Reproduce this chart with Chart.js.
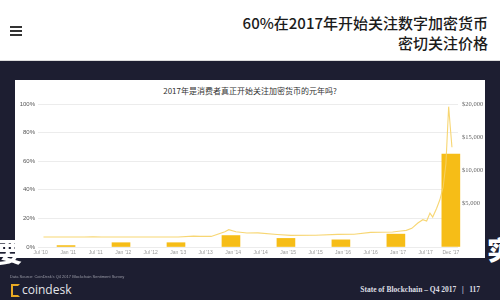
<!DOCTYPE html>
<html>
<head>
<meta charset="utf-8">
<script src="https://cdn.jsdelivr.net/npm/chart.js@4/dist/chart.umd.min.js"></script>
<style>
  html, body { margin: 0; padding: 0; }
  body { width: 500px; height: 300px; overflow: hidden; position: relative; background: #1d1e31; font-family: 'Noto Sans CJK SC', 'Noto Sans', sans-serif; }
  #hdr { position: absolute; left: 0; top: 0; width: 500px; height: 60px; background: #fff; border-bottom: 1px solid #dcdcdc; }
  .bar { position: absolute; left: 10px; width: 12px; height: 2px; background: #333; }
  #headline { position: absolute; right: 12px; top: 13px; text-align: right; font: 500 15px/20px 'Noto Sans CJK SC', sans-serif; color: #1b1b1b; white-space: nowrap; }
  #card { position: absolute; left: 15px; top: 80px; width: 470px; height: 178px; background: #fff; }
  #ctitle { position: absolute; left: 0; top: 5px; width: 100%; text-align: center; font: 8px 'Noto Sans CJK SC', sans-serif; color: #333; white-space: nowrap; }
  #c { position: absolute; left: 0; top: 0; }
  .glyph { position: absolute; font: 900 26px 'Noto Sans CJK SC', sans-serif; color: #fff; line-height: 1; }
  #src { position: absolute; left: 10px; top: 274px; font: 4px 'Liberation Sans', sans-serif; color: #9b9ca8; white-space: nowrap; }
  #logo { position: absolute; left: 11px; top: 284px; width: 5px; height: 9px; border: 2px solid #e8a923; border-right-color: transparent; }
  #brand { position: absolute; left: 22px; top: 281px; font: 12px 'Open Sans', sans-serif; color: #e4e5ea; }
  #page { position: absolute; right: 20px; top: 285px; font: bold 7.5px 'Liberation Serif', serif; color: #dedfe4; white-space: pre; }
</style>
</head>
<body>
<div id="hdr">
  <div class="bar" style="top:26px"></div>
  <div class="bar" style="top:30px"></div>
  <div class="bar" style="top:34px"></div>
  <div id="headline">60%在2017年开始关注数字加密货币<br>密切关注价格</div>
</div>

<div id="card">
  <div id="ctitle">2017年是消费者真正开始关注加密货币的元年吗?</div>
  <canvas id="c" width="470" height="178"></canvas>
</div>

<div class="glyph" style="left:-3px; top:238px;">要</div>
<div class="glyph" style="left:487px; top:236px;">实</div>

<div id="src">Data Source: CoinDesk's Q4 2017 Blockchain Sentiment Survey</div>
<div id="logo"></div>
<div id="brand">coindesk</div>
<div id="page">State of Blockchain – Q4 2017   |   117</div>

<script>
// Survey: year respondents started following crypto (% of respondents)
const surveyYears = [2010, 2011, 2012, 2013, 2014, 2015, 2016, 2017];
const sharePct = [1, 3, 3, 8, 6, 5, 9, 65];

// Bitcoin price (USD) over time, decimal years
const priceTimes = [2010.55, 2010.9, 2011.3, 2011.45, 2011.6, 2011.9, 2012.3, 2012.7, 2013.0, 2013.28, 2013.4,
  2013.6, 2013.85, 2013.92, 2014.05, 2014.25, 2014.45, 2014.8, 2015.05, 2015.5, 2015.9, 2016.2, 2016.5,
  2016.9, 2017.05, 2017.15, 2017.25, 2017.36, 2017.45, 2017.52, 2017.58, 2017.63, 2017.7, 2017.76,
  2017.82, 2017.87, 2017.92, 2017.95, 2017.98];
const priceUsd = [0.1, 0.3, 1, 18, 13, 3, 5, 12, 13, 140, 100,
  90, 800, 1100, 800, 600, 620, 380, 250, 260, 400, 420, 700,
  750, 900, 1000, 1300, 2100, 2600, 2400, 3600, 3000, 4300, 5600,
  7500, 11000, 19600, 16500, 13500];

// Axis ticks
const timeTickValues = [2010.5, 2011, 2011.5, 2012, 2012.5, 2013, 2013.5, 2014, 2014.5, 2015, 2015.5,
  2016, 2016.5, 2017, 2017.5, 2017.96];
const timeTickLabels = ["Jul '10", "Jan '11", "Jul '11", "Jan '12", "Jul '12", "Jan '13", "Jul '13", "Jan '14",
  "Jul '14", "Jan '15", "Jul '15", "Jan '16", "Jul '16", "Jan '17", "Jul '17", "Dec '17"];
const priceTickValues = [5000, 10000, 15000, 20000];

// bars stand at the close of each survey year
const barPoints = surveyYears.map((y, i) => ({ x: y + 0.96, y: sharePct[i] }));
const linePoints = priceTimes.map((t, i) => ({ x: t, y: priceUsd[i] }));

new Chart(document.getElementById('c'), {
  type: 'bar',
  data: {
    datasets: [
      {
        type: 'line',
        label: 'BTC',
        data: linePoints,
        xAxisID: 'x',
        yAxisID: 'y1',
        borderColor: 'rgba(246, 210, 100, 0.9)',
        borderWidth: 1.1,
        pointRadius: 0,
        tension: 0,
        order: 0
      },
      {
        type: 'bar',
        label: 'share',
        data: barPoints,
        xAxisID: 'x',
        yAxisID: 'y',
        backgroundColor: '#f6bd17',
        barThickness: 18,
        clip: false,
        order: 1
      }
    ]
  },
  options: {
    responsive: false,
    animation: false,
    devicePixelRatio: 1,
    layout: { padding: { top: 24, left: 0, right: 0, bottom: 0 } },
    plugins: { legend: { display: false }, tooltip: { enabled: false }, title: { display: false } },
    scales: {
      x: {
        type: 'linear',
        min: 2010.45,
        max: 2018.09,
        offset: false,
        grid: { display: false, drawTicks: false },
        border: { display: false },
        ticks: {
          autoSkip: false,
          maxRotation: 0,
          padding: 3,
          color: '#9a9a9a',
          font: { size: 5, family: 'Liberation Sans' },
          callback: (v, i) => timeTickLabels[i]
        },
        afterBuildTicks: s => { s.ticks = timeTickValues.map(v => ({ value: v })); },
        afterFit: s => { s.height = 11; }
      },
      y: {
        position: 'left',
        min: 0,
        max: 100,
        grid: { color: '#ececec', drawTicks: false },
        border: { display: false },
        ticks: {
          stepSize: 20,
          padding: 3,
          color: '#555',
          font: { size: 6, family: 'Liberation Sans' },
          callback: v => v + '%'
        },
        afterFit: s => { s.width = 23; }
      },
      y1: {
        position: 'right',
        min: -1500,
        max: 20000,
        grid: { display: false, drawTicks: false },
        border: { display: false },
        ticks: {
          padding: 4,
          color: '#666',
          font: { size: 6.5, family: 'Liberation Serif' },
          callback: v => '$' + Number(v).toLocaleString('en-US')
        },
        afterBuildTicks: s => { s.ticks = priceTickValues.map(v => ({ value: v })); },
        afterFit: s => { s.width = 27; }
      }
    }
  }
});
</script>
</body>
</html>
